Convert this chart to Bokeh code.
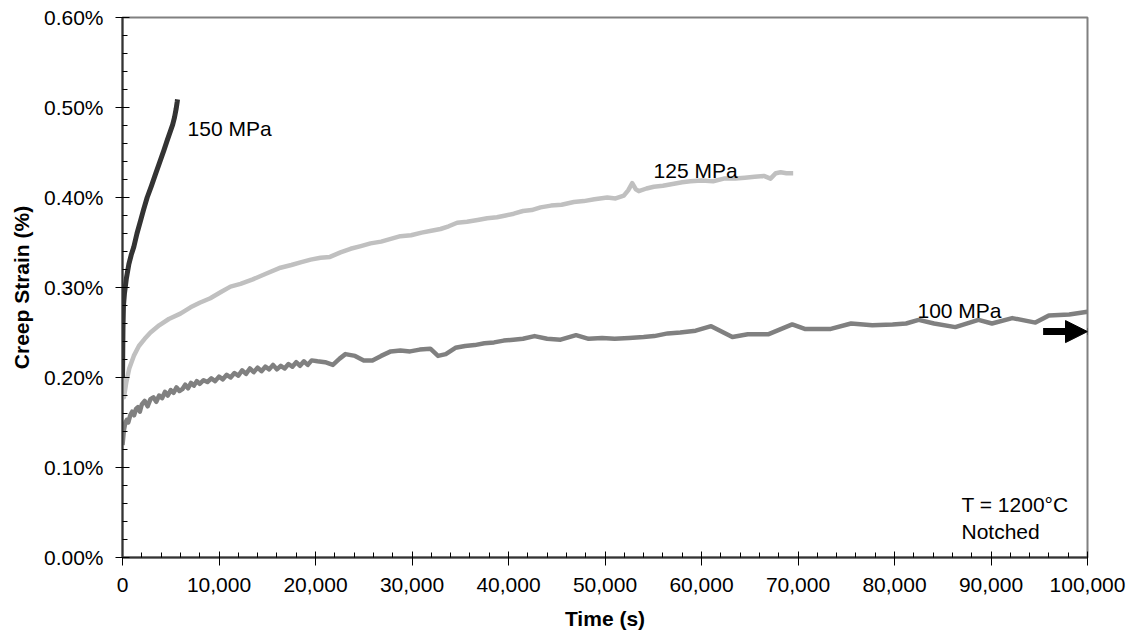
from bokeh.plotting import figure
from bokeh.models import (Range1d, FixedTicker, NumeralTickFormatter,
                          PrintfTickFormatter, Arrow, NormalHead, Label)
from bokeh.embed import file_html
from bokeh.resources import INLINE

# ---------------- data ----------------
t150 = [0, 50, 100, 200, 400, 660, 900, 1170, 1500, 1865, 2200, 2555, 3000,
        3420, 3850, 4280, 4650, 4975, 5200, 5390, 5550, 5665, 5700]
s150 = [0.200, 0.255, 0.280, 0.293, 0.310, 0.326, 0.336, 0.345, 0.360, 0.374,
        0.387, 0.400, 0.413, 0.426, 0.439, 0.452, 0.464, 0.474, 0.481, 0.489,
        0.498, 0.506, 0.509]

t125 = [0, 40, 150, 400, 700, 1170, 1700, 2300, 2900, 3800, 4800, 6000, 7050,
        8000, 9100, 10200, 11190, 12230, 13500, 14800, 16370, 17500, 18450,
        19500, 20520, 21500, 22590, 23630, 24700, 25700, 26800, 27800, 28800,
        29900, 31000, 32000, 32950, 33800, 34680, 35700, 36800, 37790, 38800,
        39700, 40550, 41500, 42400, 43320, 44400, 45500, 46770, 47800, 48900,
        50230, 51100, 51950, 52400, 52820, 53200, 53500, 54300, 55060, 56000,
        57000, 58000, 58860, 60000, 61200, 62310, 63500, 64500, 65500, 66460,
        67150, 67700, 68200, 68800, 69500]
s125 = [0.300, 0.200, 0.178, 0.195, 0.210, 0.224, 0.235, 0.243, 0.250, 0.258,
        0.265, 0.271, 0.278, 0.283, 0.288, 0.295, 0.301, 0.304, 0.309, 0.315,
        0.322, 0.325, 0.328, 0.331, 0.333, 0.334, 0.339, 0.343, 0.346, 0.349,
        0.351, 0.354, 0.357, 0.358, 0.361, 0.363, 0.365, 0.368, 0.372, 0.373,
        0.375, 0.377, 0.378, 0.380, 0.382, 0.385, 0.386, 0.389, 0.391, 0.392,
        0.395, 0.396, 0.398, 0.400, 0.399, 0.402, 0.408, 0.416, 0.409, 0.407,
        0.410, 0.412, 0.413, 0.415, 0.417, 0.418, 0.419, 0.418, 0.421, 0.421,
        0.422, 0.423, 0.424, 0.421, 0.427, 0.428, 0.427, 0.427]

t100 = [0, 150, 300, 450, 600, 800, 1000, 1200, 1400, 1600, 1800, 2000, 2300,
        2600, 2900, 3200, 3500, 3800, 4100, 4400, 4700, 5000, 5300, 5600, 5900,
        6200, 6500, 6800, 7100, 7400, 7700, 8000, 8400, 8800, 9200, 9600, 10000,
        10400, 10800, 11200, 11600, 12000, 12400, 12800, 13200, 13600, 14000,
        14400, 14800, 15200, 15600, 16000, 16400, 16800, 17200, 17600, 18000,
        18400, 18800, 19200, 19600, 20200, 21000, 21800, 22500, 23100, 24100,
        25000, 25900, 26800, 27800, 28800, 29800, 30800, 31900, 32700, 33500,
        34500, 35500, 36500, 37500, 38500, 39500, 40500, 41500, 42700, 44000,
        45400, 47000, 48300, 49700, 51000, 52500, 54000, 55100, 56500, 57800,
        59400, 61000, 63200, 64800, 66900, 69400, 70700, 72000, 73400, 75500,
        77700, 79800, 81200, 82500, 84100, 86300, 88700, 90100, 92200, 94600,
        96000, 98100, 100000]
s100 = [0.125, 0.142, 0.150, 0.153, 0.150, 0.158, 0.162, 0.158, 0.165, 0.167,
        0.162, 0.170, 0.174, 0.168, 0.176, 0.178, 0.173, 0.180, 0.177, 0.184,
        0.180, 0.186, 0.183, 0.189, 0.185, 0.187, 0.192, 0.188, 0.194, 0.191,
        0.196, 0.193, 0.197, 0.195, 0.199, 0.196, 0.201, 0.198, 0.203, 0.200,
        0.205, 0.202, 0.208, 0.204, 0.210, 0.206, 0.211, 0.207, 0.212, 0.209,
        0.214, 0.209, 0.213, 0.210, 0.215, 0.212, 0.217, 0.213, 0.218, 0.214,
        0.219, 0.218, 0.217, 0.214, 0.221, 0.226, 0.224, 0.219, 0.219, 0.224,
        0.229, 0.230, 0.229, 0.231, 0.232, 0.224, 0.226, 0.233, 0.235, 0.236,
        0.238, 0.239, 0.241, 0.242, 0.243, 0.246, 0.243, 0.242, 0.247, 0.243,
        0.244, 0.243, 0.244, 0.245, 0.246, 0.249, 0.250, 0.252, 0.257, 0.245,
        0.248, 0.248, 0.259, 0.254, 0.254, 0.254, 0.260, 0.258, 0.259, 0.260,
        0.264, 0.260, 0.256, 0.264, 0.260, 0.266, 0.261, 0.269, 0.270, 0.273]

x_major = [0, 10000, 20000, 30000, 40000, 50000, 60000, 70000, 80000, 90000, 100000]
x_minor = list(range(0, 100001, 2000))
y_major = [0.0, 0.1, 0.2, 0.3, 0.4, 0.5, 0.6]
y_minor = [i * 0.02 for i in range(31)]

series_labels = ["150 MPa", "125 MPa", "100 MPa"]
label_x = [6740, 55030, 82380]
label_y = [0.477, 0.430, 0.274]
note_lines = ["T = 1200°C", "Notched"]
note_x = 86940
note_y = [0.0586, 0.0289]

runout_x = [95400, 100000]
runout_y = 0.251

FONT = "Liberation Sans"

# ---------------- figure ----------------
p = figure(width=1133, height=643, output_backend="svg", toolbar_location=None,
           x_range=Range1d(0, 100000), y_range=Range1d(0, 0.6),
           min_border_left=122, min_border_right=46,
           min_border_top=17, min_border_bottom=86)
p.background_fill_color = "white"
p.border_fill_color = "white"
p.outline_line_color = "#808080"
p.outline_line_width = 2
p.xgrid.visible = False
p.ygrid.visible = False

p.line(t100, s100, line_color="#808080", line_width=4.5, line_join="round")
p.line(t125, s125, line_color="#C0C0C0", line_width=4.5, line_join="round")
p.line(t150, s150, line_color="#333333", line_width=5, line_join="round")

for ax in (p.xaxis[0], p.yaxis[0]):
    ax.axis_line_color = "#333333"
    ax.axis_line_width = 2
    ax.major_tick_line_color = "black"
    ax.minor_tick_line_color = "black"
    ax.major_label_text_font = FONT
    ax.major_label_text_font_size = "21px"
    ax.major_label_text_color = "black"
    ax.axis_label_text_font = FONT
    ax.axis_label_text_font_size = "21px"
    ax.axis_label_text_font_style = "bold"
    ax.axis_label_text_color = "black"

p.xaxis.ticker = FixedTicker(ticks=x_major, minor_ticks=x_minor)
p.xaxis.formatter = NumeralTickFormatter(format="0,0")
p.xaxis.major_tick_in = 6
p.xaxis.major_tick_out = 8
p.xaxis.minor_tick_in = 5
p.xaxis.minor_tick_out = 0
p.xaxis.major_label_standoff = 12
p.xaxis.axis_label = "Time (s)"
p.xaxis.axis_label_standoff = 12

p.yaxis.ticker = FixedTicker(ticks=y_major, minor_ticks=y_minor)
p.yaxis.formatter = PrintfTickFormatter(format="%.2f%%")
p.yaxis.major_tick_in = 7
p.yaxis.major_tick_out = 7
p.yaxis.minor_tick_in = 5
p.yaxis.minor_tick_out = 0
p.yaxis.major_label_standoff = 12
p.yaxis.axis_label = "Creep Strain (%)"
p.yaxis.axis_label_standoff = 8

for txt, lx, ly in zip(series_labels, label_x, label_y):
    p.add_layout(Label(x=lx, y=ly, text=txt, text_font=FONT,
                       text_font_size="21px", text_color="black",
                       text_align="left", text_baseline="alphabetic"))
for txt, ly in zip(note_lines, note_y):
    p.add_layout(Label(x=note_x, y=ly, text=txt, text_font=FONT,
                       text_font_size="21px", text_color="black",
                       text_align="left", text_baseline="alphabetic"))

p.add_layout(Arrow(end=NormalHead(size=22, fill_color="black", line_color="black",
                                  line_width=1),
                   x_start=runout_x[0], x_end=runout_x[1],
                   y_start=runout_y, y_end=runout_y,
                   line_color="black", line_width=7))

open("out.html", "w").write(file_html(p, INLINE))
